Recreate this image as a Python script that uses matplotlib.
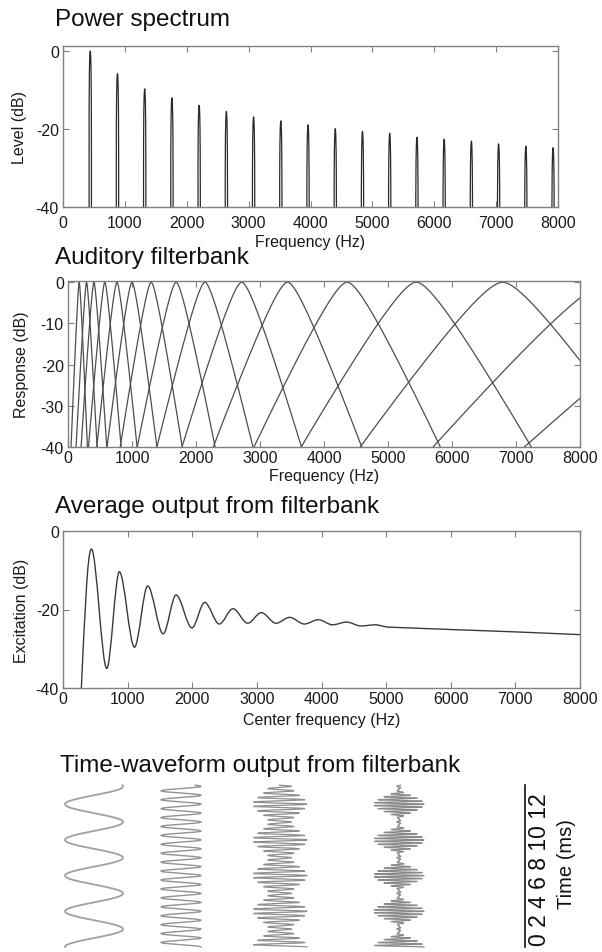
import numpy as np
import matplotlib
matplotlib.use("Agg")
import matplotlib.pyplot as plt
from matplotlib.path import Path
from matplotlib.patches import PathPatch

plt.rcParams['font.family'] = ['Liberation Sans', 'DejaVu Sans']
plt.rcParams['axes.unicode_minus'] = False

# ---------------- data ----------------
# Power spectrum: harmonic frequencies (Hz) and peak levels (dB)
harmonic_freqs = [440, 880, 1320, 1760, 2200, 2640, 3080, 3520, 3960, 4400,
                  4840, 5280, 5720, 6160, 6600, 7040, 7480, 7920]
harmonic_levels = [0.0, -5.8, -9.7, -12.0, -13.9, -15.5, -16.9, -17.9, -18.9, -19.9,
                   -20.6, -21.1, -22.1, -22.6, -23.1, -23.8, -24.4, -24.8]

# Auditory filterbank: centre frequencies (Hz)
filter_centers = [175, 290, 405, 575, 765, 1000, 1300, 1690, 2140, 2715,
                  3430, 4362, 5442, 6792, 8460, 10550]

# Excitation pattern: start point, alternating peaks / troughs, then smooth tail
exc_start = (284, -40.0)
exc_ext_freqs = [440, 677, 872, 1106, 1310, 1550, 1750, 1995, 2192, 2419, 2630,
                 2858, 3068, 3297, 3506, 3736, 3950, 4170, 4390, 4610, 4830]
exc_ext_levels = [-4.6, -35.0, -10.4, -29.6, -14.0, -26.2, -16.3, -24.7, -18.2, -23.7, -19.8,
                  -23.5, -20.8, -23.5, -22.0, -23.7, -22.6, -23.9, -23.2, -24.2, -23.9]
exc_tail_freqs = [5050, 6000, 7000, 8000]
exc_tail_levels = [-24.5, -25.1, -25.7, -26.4]

# Time waveforms: harmonic numbers and weights of each filter output
wave_f0 = 440.0
wave_harmonics = [[1], [4], [7, 8, 9], [11, 12, 13]]
wave_weights = [[1.0], [1.0], [0.2, 1.0, 0.2], [0.6, 1.0, 0.6]]
wave_signs = [-1, 1, 1, 1]
wave_duration_ms = 10.3
time_tick_text = "0 2 4 6 8 10 12"

# ---------------- layout ----------------
W, H = 602, 953
fig = plt.figure(figsize=(W / 100, H / 100), dpi=100)

SPINE = '#808080'
TXT = '#1a1a1a'


def px_axes(left, top, right, bottom):
    return fig.add_axes([left / W, 1 - bottom / H, (right - left) / W, (bottom - top) / H])


def style(ax, ylim, yticks, box, ylabel, ylabel_x, xlabel, xlabel_y, xpad):
    left, top, right, bottom = box
    ax.set_xlim(0, 8000)
    ax.set_xticks(range(0, 8001, 1000))
    ax.set_ylim(*ylim)
    ax.set_yticks(yticks)
    ax.tick_params(direction='in', top=True, right=True, length=4, width=0.8,
                   color=SPINE, labelsize=11.5, labelcolor=TXT, pad=3)
    ax.tick_params(axis='x', pad=xpad)
    for s in ax.spines.values():
        s.set_color(SPINE)
        s.set_linewidth(1.0)
    ax.set_ylabel(ylabel, fontsize=11.5, color=TXT)
    ax.yaxis.set_label_coords((ylabel_x - left) / (right - left), 0.5)
    ax.yaxis.label.set_va('center')
    ax.set_xlabel(xlabel, fontsize=11.5, color=TXT)
    ax.xaxis.set_label_coords(0.5, (bottom - xlabel_y) / (bottom - top))
    ax.xaxis.label.set_va('center')


def title(x, y, s):
    fig.text(x / W, 1 - y / H, s, fontsize=17.5, ha='left', va='center', color='#111111')


# ---- Panel 1: power spectrum ----
box1 = (63, 47, 558, 208)
ax1 = px_axes(*box1)
half_w = 20.0
xs, ys = [], []
for f, L in zip(harmonic_freqs, harmonic_levels):
    df = np.linspace(-half_w, half_w, 81)
    amp = np.clip(1 - (df / half_w) ** 2, 1e-6, None)
    xs.extend(list(f + df) + [np.nan])
    ys.extend(list(L + 20 * np.log10(amp)) + [np.nan])
ax1.plot(xs, ys, color='#2a2a2a', lw=0.9)
style(ax1, (-40, 1.3), [-40, -20, 0], box1, 'Level (dB)', 20, 'Frequency (Hz)', 242, 6)
title(55, 20, 'Power spectrum')

# ---- Panel 2: auditory filterbank ----
box2 = (68, 282, 580, 448)
ax2 = px_axes(*box2)
freq = np.linspace(0, 8000, 4001)
for fc in filter_centers:
    erb = 24.7 * (4.37 * fc / 1000 + 1)
    p = 4 * fc / erb
    g = np.abs(freq - fc) / fc
    resp = (1 + p * g) * np.exp(-p * g)
    ax2.plot(freq, 10 * np.log10(resp), color='#4d4d4d', lw=0.9)
style(ax2, (-40, 0.3), [-40, -30, -20, -10, 0], box2, 'Response (dB)', 22, 'Frequency (Hz)', 477, 2)
title(55, 258, 'Auditory filterbank')

# ---- Panel 3: excitation pattern ----
box3 = (63, 532, 580, 689)
ax3 = px_axes(*box3)
verts = [exc_start]
codes = [Path.MOVETO]
x0, y0 = exc_start
x1, y1 = exc_ext_freqs[0], exc_ext_levels[0]
dx, dy = x1 - x0, y1 - y0
verts += [(x0 + 0.33 * dx, y0 + 0.5 * dy), (x1 - 0.4 * dx, y1), (x1, y1)]
codes += [Path.CURVE4] * 3
for i in range(1, len(exc_ext_freqs)):
    xa, ya = exc_ext_freqs[i - 1], exc_ext_levels[i - 1]
    xb, yb = exc_ext_freqs[i], exc_ext_levels[i]
    d = xb - xa
    verts += [(xa + d / 3, ya), (xb - d / 3, yb), (xb, yb)]
    codes += [Path.CURVE4] * 3
xa, ya = exc_ext_freqs[-1], exc_ext_levels[-1]
xb, yb = exc_tail_freqs[0], exc_tail_levels[0]
d = xb - xa
verts += [(xa + d / 3, ya), (xb - d / 3, yb), (xb, yb)]
codes += [Path.CURVE4] * 3
for xt, yt in zip(exc_tail_freqs[1:], exc_tail_levels[1:]):
    verts.append((xt, yt))
    codes.append(Path.LINETO)
ax3.add_patch(PathPatch(Path(verts, codes), facecolor='none', edgecolor='#3a3a3a', lw=1.0))
style(ax3, (-40, 0), [-40, -20, 0], box3, 'Excitation (dB)', 22, 'Center frequency (Hz)', 721, 2.5)
title(55, 507, 'Average output from filterbank')

# ---- Panel 4: time waveforms ----
title(60, 766, 'Time-waveform output from filterbank')
ax4 = px_axes(0, 780, W, H)
ax4.axis('off')
px_per_ms = 35.7 * wave_f0 / 1000.0
ax4.set_xlim(0, W)
ax4.set_ylim(-(H - 948) / px_per_ms, (948 - 780) / px_per_ms)
lane_centers = [94, 181, 280, 399]
lane_halfwidths = [29, 20, 27, 25]
lane_colors = ['#a0a0a0', '#939393', '#8f8f8f', '#8a8a8a']
lane_lw = [1.3, 1.0, 0.9, 0.9]
t = np.linspace(0, wave_duration_ms, 8000)
for hs, ws, sg, c, hw, col, lw in zip(wave_harmonics, wave_weights, wave_signs,
                                      lane_centers, lane_halfwidths, lane_colors, lane_lw):
    sig = np.zeros_like(t)
    for h, w in zip(hs, ws):
        sig += w * np.cos(2 * np.pi * h * wave_f0 * t / 1000.0)
    sig = sg * sig / sum(ws)
    ax4.plot(c + hw * sig, t, color=col, lw=lw)

ax_t = px_axes(525, 786, 526, 948)
ax_t.set_xticks([]); ax_t.set_yticks([])
for k, s in ax_t.spines.items():
    s.set_visible(k == 'left')
ax_t.spines['left'].set_color('#111111')
ax_t.spines['left'].set_linewidth(1.2)
ax_t.patch.set_alpha(0)
fig.text(539 / W, 1 - 870 / H, time_tick_text, rotation=90, ha='center', va='center',
         fontsize=16.5, color='#111111')
fig.text(566 / W, 1 - 864 / H, 'Time (ms)', rotation=90, ha='center', va='center',
         fontsize=14.5, color='#111111')

fig.savefig('out.png', dpi=100)
